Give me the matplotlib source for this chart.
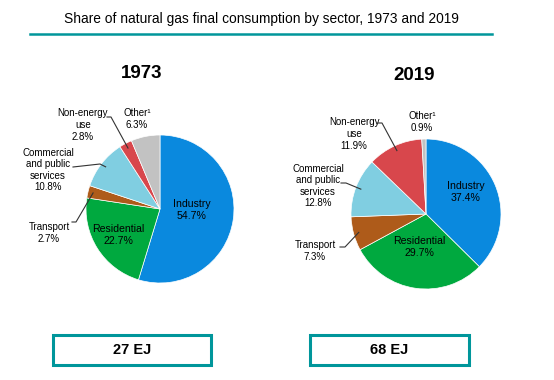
import numpy as np
import matplotlib.pyplot as plt
from matplotlib.patches import Rectangle
from matplotlib.lines import Line2D

plt.rcParams['font.family'] = ['Liberation Sans Narrow', 'Liberation Sans', 'DejaVu Sans']

# data
sectors = ['Industry', 'Residential', 'Transport', 'Commercial\nand public\nservices', 'Non-energy\nuse', 'Other\u00b9']
share_1973 = [54.7, 22.7, 2.7, 10.8, 2.8, 6.3]
share_2019 = [37.4, 29.7, 7.3, 12.8, 11.9, 0.9]
totals = ['27 EJ', '68 EJ']
years = ['1973', '2019']
colors = ['#0A89DE', '#00A93F', '#AE5B1A', '#80CEE1', '#D8474C', '#C2C2C2']
teal = '#00969B'

W, H = 554, 380
fig = plt.figure(figsize=(W / 100, H / 100), dpi=100)


def px(x, y):
    # figure pixels (from top-left) -> figure fraction
    return x / W, 1 - y / H


fig.text(*px(261, 19), 'Share of natural gas final consumption by sector, 1973 and 2019',
         ha='center', va='center', fontsize=9.9)
fig.add_artist(Line2D([30 / W, 492 / W], [1 - 34 / H] * 2, color=teal, lw=1.8))

# per-pie layout: centre, radius, inside labels, outside labels, leader lines
layouts = [
    dict(c=(160, 209), r=74, year=(142, 73), box=(53, 335, 158, 30),
         inside={0: (192, 210), 1: (118, 235)},
         outside={2: (49, 233), 3: (48, 170), 4: (83, 125), 5: (137, 119)},
         leaders={2: [(72, 222), (76, 222)], 3: [(73, 167), (100, 164)], 4: [(107, 117), (111, 117)]}),
    dict(c=(426, 214), r=75, year=(414, 75), box=(310, 335, 159, 30),
         inside={0: (466, 192), 1: (419, 247)},
         outside={2: (315, 251), 3: (318, 186), 4: (354, 134), 5: (422, 122)},
         leaders={2: [(340, 247), (345, 247)], 3: [(341, 183), (346, 183)], 4: [(378, 123), (382, 123)]}),
]

for shares, lay, year, total in zip([share_1973, share_2019], layouts, years, totals):
    cx, cy = lay['c']
    r = lay['r']
    x0, y0 = px(cx - r, cy + r)
    ax = fig.add_axes([x0, y0, 2 * r / W, 2 * r / H])
    wedges, _ = ax.pie(shares, colors=colors, startangle=90, counterclock=False,
                       wedgeprops=dict(edgecolor='white', linewidth=0.5))
    ax.set_xlim(-1, 1)
    ax.set_ylim(-1, 1)
    ax.axis('off')

    fig.text(*px(*lay['year']), year, ha='center', va='center', fontsize=13.5, fontweight='bold')

    for i, (tx, ty) in lay['inside'].items():
        fig.text(*px(tx, ty), f'{sectors[i]}\n{shares[i]}%', ha='center', va='center',
                 fontsize=7.6, linespacing=1.15)
    for i, (tx, ty) in lay['outside'].items():
        fig.text(*px(tx, ty), f'{sectors[i]}\n{shares[i]}%', ha='center', va='center',
                 fontsize=7, linespacing=1.2)

    # leader lines from label to the wedge's mid angle
    for i, pts in lay['leaders'].items():
        w = wedges[i]
        mid = np.deg2rad((w.theta1 + w.theta2) / 2)
        ex = cx + 0.93 * r * np.cos(mid)
        ey = cy - 0.93 * r * np.sin(mid)
        xs = [p[0] for p in pts] + [ex]
        ys = [p[1] for p in pts] + [ey]
        fig.add_artist(Line2D([x / W for x in xs], [1 - y / H for y in ys],
                              color='#333333', lw=0.8))

    bx, by, bw, bh = lay['box']
    fig.add_artist(Rectangle(px(bx, by + bh), bw / W, bh / H, transform=fig.transFigure,
                             fill=False, edgecolor=teal, lw=2.2))
    fig.text(*px(bx + bw / 2, by + bh / 2), total, ha='center', va='center',
             fontsize=10.5, fontweight='bold')

fig.savefig('out.png', dpi=100)
